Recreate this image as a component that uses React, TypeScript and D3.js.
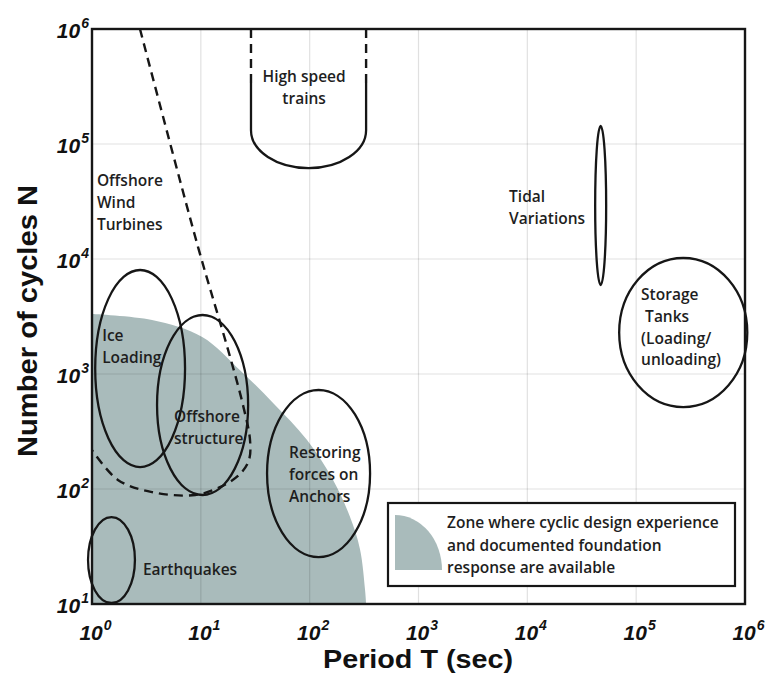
import React from "react";
import * as d3 from "d3";

// ---- Axes ----
const xTickExps = [0, 1, 2, 3, 4, 5, 6];
const yTickExps = [1, 2, 3, 4, 5, 6];
const xTitle = "Period T (sec)";
const yTitle = "Number of cycles N";

// ---- Zone where cyclic design experience is available (boundary) ----
const zoneT = [1, 3.56, 10.3, 22.9, 46.1, 94.6, 164, 235, 290, 323, 330];
const zoneN = [3330, 2950, 2100, 1080, 560, 267, 120, 57, 30, 13.2, 10];

// ---- Offshore wind turbines dashed boundary ----
const windT = [2.76, 9.43, 17.8, 24.4, 28.3, 27.7, 22.9, 15.7, 8.85, 3.56, 1.73, 1];
const windN = [1e6, 12700, 1620, 537, 267, 179, 135, 106, 88.7, 94, 120, 218];

// ---- Ellipse regions (T range, N range) ----
const regionNames = ["Earthquakes", "Ice Loading", "Offshore structure", "Restoring forces", "Tidal", "Storage tanks"];
const regionTmin = [0.92, 1.07, 3.96, 40.6, 42000, 69800];
const regionTmax = [2.48, 7.16, 27.2, 359, 53000, 1.05e6];
const regionNmin = [10.2, 155, 88.7, 25.6, 5940, 516];
const regionNmax = [57, 8020, 3260, 726, 143600, 10200];

// ---- High speed trains U shape ----
const trainT = [28.9, 330];
const trainNtop = 1e6;
const trainNdash = 3.4e5;
const trainNarc = 1.32e5;
const trainNbottom = 61800;

// ---- Labels ----
const labelLines = [
  ["Offshore", "Wind", "Turbines"],
  ["High speed", "trains"],
  ["Ice", "Loading"],
  ["Offshore", "structure"],
  ["Restoring", "forces on", "Anchors"],
  ["Earthquakes"],
  ["Tidal", "Variations"],
  ["Storage", " Tanks", "(Loading/", "unloading)"],
];
const labelT = [1.11, 88.9, 1.24, 5.67, 64.7, 2.94, 6800, 111000];
const labelN = [43100, 346000, 1940, 383, 186, 17.9, 31300, 4400];
const labelAnchor = ["start", "middle", "start", "start", "start", "start", "start", "start"];

const legendLines = [
  "Zone where cyclic design experience",
  "and documented foundation",
  "response are available",
];

const W = 766;
const H = 675;
const L = 92, R = 745, T = 29, B = 604;

export default function App() {
  const x = d3.scaleLog().domain([1, 1e6]).range([L, R]);
  const y = d3.scaleLog().domain([10, 1e6]).range([B, T]);

  const lineGen = d3
    .line<[number, number]>()
    .x((d) => d[0])
    .y((d) => d[1])
    .curve(d3.curveCatmullRom.alpha(0.5));

  const zonePts: [number, number][] = zoneT.map((t, i) => [x(t), y(zoneN[i])]);
  const zonePath = (lineGen(zonePts) || "") + `L${x(1)},${y(10)}Z`;

  const windPts: [number, number][] = windT.map((t, i) => [x(t), y(windN[i])]);
  const windPath = lineGen(windPts) || "";

  const tl = x(trainT[0]);
  const tr = x(trainT[1]);
  const trRx = (tr - tl) / 2;
  const trRy = y(trainNbottom) - y(trainNarc);
  const trainDash = `M${tl},${y(trainNtop)}V${y(trainNdash)}M${tr},${y(trainNtop)}V${y(trainNdash)}`;
  const trainSolid = `M${tl},${y(trainNdash)}V${y(trainNarc)}A${trRx},${trRy} 0 0 0 ${tr},${y(trainNarc)}V${y(trainNdash)}`;

  const labelFont = "'Open Sans', sans-serif";
  const tickFont = "'Liberation Sans', Arial, sans-serif";
  const ink = "#161616";

  return (
    <svg
      width={W}
      height={H}
      style={{ position: "absolute", left: 0, top: 0, background: "#fff" }}
    >
      <defs>
        <clipPath id="plotClip">
          <rect x={L} y={T} width={R - L} height={B - T} />
        </clipPath>
      </defs>
      <rect x={0} y={0} width={W} height={H} fill="#fff" />

      {/* zone */}
      <path d={zonePath} fill="#a9bbbb" clipPath="url(#plotClip)" />

      {/* grid */}
      <g stroke="#000" strokeOpacity={0.12} strokeWidth={1.2}>
        {xTickExps.slice(1, -1).map((e) => (
          <line key={"gx" + e} x1={x(10 ** e)} x2={x(10 ** e)} y1={T} y2={B} />
        ))}
        {yTickExps.slice(1, -1).map((e) => (
          <line key={"gy" + e} x1={L} x2={R} y1={y(10 ** e)} y2={y(10 ** e)} />
        ))}
      </g>

      {/* wind turbines dashed */}
      <path d={windPath} fill="none" stroke={ink} strokeWidth={2.4} strokeDasharray="9,6" />

      {/* ellipses */}
      <g fill="none" stroke={ink} strokeWidth={2.3}>
        {regionNames.map((n, i) => {
          const x0 = x(regionTmin[i]);
          const x1 = x(regionTmax[i]);
          const y0 = y(regionNmax[i]);
          const y1 = y(regionNmin[i]);
          return (
            <ellipse
              key={n}
              cx={(x0 + x1) / 2}
              cy={(y0 + y1) / 2}
              rx={(x1 - x0) / 2}
              ry={(y1 - y0) / 2}
            />
          );
        })}
      </g>

      {/* high speed trains */}
      <path d={trainDash} fill="none" stroke={ink} strokeWidth={2.4} strokeDasharray="9,6" />
      <path d={trainSolid} fill="none" stroke={ink} strokeWidth={2.3} />

      {/* labels */}
      <g fontFamily={labelFont} fontWeight={600} fontSize={15.5} fill="#1e1e1e">
        {labelLines.map((lines, i) => (
          <text key={"lab" + i} textAnchor={labelAnchor[i]} style={{ whiteSpace: "pre" }}>
            {lines.map((ln, j) => (
              <tspan key={j} x={x(labelT[i])} y={y(labelN[i]) + j * 21.8}>
                {ln}
              </tspan>
            ))}
          </text>
        ))}
      </g>

      {/* frame */}
      <rect x={L} y={T} width={R - L} height={B - T} fill="none" stroke={ink} strokeWidth={2.4} />

      {/* legend */}
      <rect x={388} y={503} width={347} height={83} fill="#fff" stroke={ink} strokeWidth={2.2} />
      <path d="M395,570V515A47,55 0 0 1 442,570Z" fill="#a9bbbb" />
      <g fontFamily={labelFont} fontWeight={600} fontSize={15.5} fill="#1e1e1e">
        {legendLines.map((s, i) => (
          <text key={"lg" + i} x={447} y={528 + i * 22.5}>
            {s}
          </text>
        ))}
      </g>

      {/* tick labels */}
      <g fontFamily={tickFont} fontWeight="bold" fontStyle="italic" fill="#111">
        {yTickExps.map((e) => (
          <text key={"yt" + e} x={89} y={y(10 ** e) + 9} textAnchor="end" fontSize={21}>
            10
            <tspan fontSize={14} dx={1} dy={-10}>
              {e}
            </tspan>
          </text>
        ))}
        {xTickExps.map((e) => (
          <text key={"xt" + e} x={x(10 ** e) + 3.5} y={640} textAnchor="middle" fontSize={21}>
            10
            <tspan fontSize={14} dx={1} dy={-10}>
              {e}
            </tspan>
          </text>
        ))}
      </g>

      {/* axis titles */}
      <text
        x={418}
        y={668}
        textAnchor="middle"
        fontFamily={tickFont}
        fontWeight="bold"
        fontSize={25}
        fill="#111"
        textLength={190}
        lengthAdjust="spacingAndGlyphs"
      >
        {xTitle}
      </text>
      <text
        transform="translate(37,321) rotate(-90)"
        textAnchor="middle"
        fontFamily={tickFont}
        fontWeight="bold"
        fontSize={27}
        fill="#111"
        textLength={272}
        lengthAdjust="spacingAndGlyphs"
      >
        {yTitle}
      </text>
    </svg>
  );
}
